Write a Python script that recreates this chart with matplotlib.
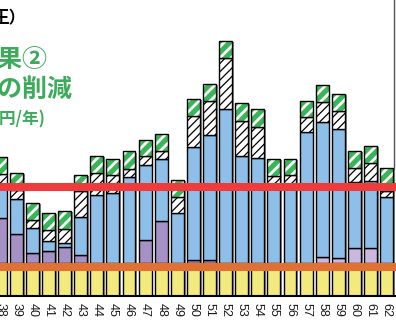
import matplotlib
matplotlib.use("Agg")
import numpy as np
import matplotlib.pyplot as plt
import matplotlib.patheffects as pe

# Fiscal years (Showa era) shown on the axis
years = [38, 39, 40, 41, 42, 43, 44, 45, 46, 47, 48, 49, 50,
         51, 52, 53, 54, 55, 56, 57, 58, 59, 60, 61, 62]
year_labels = [str(y) for y in years]

# Stacked components for each year
base_block = 16.5
purple = [22.5, 14.5, 4.9, 6.0, 7.9, 4.0, 0, 0, 0, 11.7, 21.0, 0, 1.5,
          1.5, 0, 0, 0, 0, 0, 0, 2.9, 2.7, 7.7, 7.4, 0]
blue = [15.5, 17.3, 12.5, 5.0, 2.2, 19.0, 34.0, 35.0, 43.0, 37.4, 30.9, 25.2, 56.7,
        62.4, 76.9, 53.5, 52.4, 38.0, 38.0, 65.7, 67.5, 64.2, 33.0, 33.7, 32.8]
hatched = [6.5, 4.8, 4.2, 5.5, 7.0, 13.0, 10.9, 9.0, 4.0, 4.2, 4.3, 7.7, 15.4,
           17.2, 25.5, 17.7, 15.8, 5.5, 6.0, 7.2, 10.0, 9.2, 7.0, 8.9, 3.2]
green = [8.5, 8.3, 8.4, 8.4, 9.0, 8.0, 8.8, 8.0, 8.8, 8.4, 8.2, 8.7, 8.4,
         8.4, 8.7, 8.7, 8.7, 8.5, 8.2, 8.3, 8.5, 8.4, 8.5, 8.7, 11.5]

# Reference levels
red_level = 54.5
orange_level = 14.5

plt.rcParams['font.family'] = ['Noto Sans CJK JP', 'DejaVu Sans']
plt.rcParams['hatch.linewidth'] = 1.2

W, H = 396, 324
fig = plt.figure(figsize=(W / 100, H / 100), dpi=100)
ax = fig.add_axes([0, 28 / H, 1, 296 / H])
ax.set_xlim(37.99, 62.58)
ax.set_ylim(0, 148)

x = np.array(years)
p = np.array(purple)
b = np.array(blue)
h = np.array(hatched)
g = np.array(green)
base = np.full(len(years), base_block)
b1 = base
b2 = b1 + p
b3 = b2 + b
b4 = b3 + h
total = b4 + g

bw = 0.8
edge_lw = 1.0

# white backing with a soft grey drop shadow
bg = ax.bar(x, total, bw, color='white', linewidth=0, zorder=1)
for patch in bg:
    patch.set_path_effects([pe.SimplePatchShadow(offset=(1.3, -0.8),
                                                 shadow_rgbFace='#8c8c8c', alpha=1.0),
                            pe.Normal()])

ax.bar(x, base, bw, color='#f2ea7f', edgecolor='black', linewidth=edge_lw, zorder=2)
purple_colors = ['#a691c7' if y < 55 else '#cbb8de' for y in years]
ax.bar(x, p, bw, bottom=b1, color=purple_colors, edgecolor='black',
       linewidth=edge_lw, zorder=2)
ax.bar(x, b, bw, bottom=b2, color='#8dbfe8', edgecolor='black',
       linewidth=edge_lw, zorder=2)

# black diagonal hatch on white
hb = ax.bar(x, h, bw, bottom=b3, color='white', edgecolor='black',
            hatch='////', linewidth=edge_lw, zorder=2)
for patch in hb:
    if hasattr(patch, 'set_hatch_linewidth'):
        patch.set_hatch_linewidth(0.9)

# green band with white diagonal stripes
gb = ax.bar(x, g, bw, bottom=b4, color='#38b657', edgecolor='white',
            hatch='///', linewidth=0, zorder=2)
for patch in gb:
    if hasattr(patch, 'set_hatch_linewidth'):
        patch.set_hatch_linewidth(2.0)
ax.bar(x, g, bw, bottom=b4, fill=False, edgecolor='black',
       linewidth=edge_lw, zorder=3)

# horizontal reference bands
ax.axhline(red_level, color='#ee3b3b', linewidth=5.8, zorder=5)
ax.axhline(orange_level, color='#e07133', linewidth=5.8, zorder=5)

# right frame edge
ax.axvline(62.46, ymin=0.432, ymax=1.0, color='#555555', linewidth=1.0, zorder=1)

for side in ['top', 'left', 'right']:
    ax.spines[side].set_visible(False)
ax.spines['bottom'].set_color('black')
ax.spines['bottom'].set_linewidth(1.5)
ax.set_yticks([])
ax.set_xticks(x)
ax.set_xticklabels(year_labels, rotation=-90, fontsize=9,
                   family=['Liberation Sans', 'DejaVu Sans'], color='#1a1a1a')
ax.tick_params(axis='x', length=0, pad=5)

# headings
fig.text(-8 / W, 1 - 18 / H, "王）", ha='left', va='center', fontsize=12,
         fontweight='bold', color='black')
fig.text(48 / W, 1 - 60 / H, "効果②", ha='right', va='center', fontsize=18,
         fontweight='bold', color='#3daa5c')
fig.text(73 / W, 1 - 90 / H, "被害額の削減", ha='right', va='center', fontsize=18,
         fontweight='bold', color='#3daa5c')
fig.text(45 / W, 1 - 119 / H, "(億円/年)", ha='right', va='center', fontsize=12,
         fontweight='bold', color='#3daa5c')

fig.savefig('out.png', dpi=100)
